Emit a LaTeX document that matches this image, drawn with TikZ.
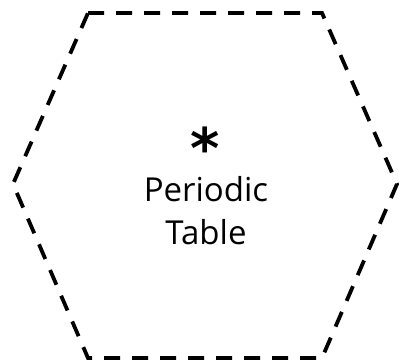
\documentclass[tikz,border=0pt]{standalone}
\usepackage{fontspec}
\setmainfont{Open Sans}
\newfontfamily\symfont{DejaVu Sans}
\begin{document}
\begin{tikzpicture}[x=1pt,y=-1pt,
  hexline/.style={line width=3.8pt,dash pattern=on 16pt off 12pt,line join=miter},
  label/.style={align=center,font=\fontsize{33}{43}\selectfont,inner sep=0pt}]
\useasboundingbox (0,0) rectangle (399,360);
\draw[hexline] (88,13) -- (322,13) -- (397,184) -- (322,358) -- (88,358) -- (13,184) -- cycle;
\node[font=\symfont\bfseries\fontsize{56}{56}\selectfont,inner sep=0pt,anchor=base,text height=40pt,text depth=0pt] (star) at (205,168) {*};
\node[label,anchor=base] (txt) at (206,244) {Periodic\\Table};
\end{tikzpicture}
\end{document}
